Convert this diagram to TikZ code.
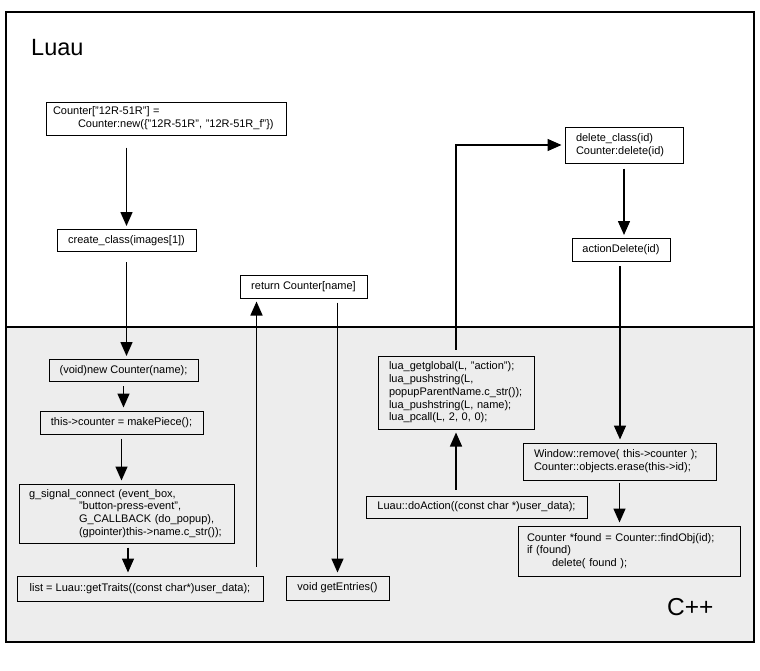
\documentclass[tikz,border=0pt]{standalone}
\usepackage{fontspec}
\setmainfont{Liberation Sans}
\usetikzlibrary{arrows.meta}
\definecolor{cxxbg}{HTML}{EDEDED}
\tikzset{
  box/.style={draw=black, line width=1pt, inner xsep=0pt, inner ysep=0pt,
    font=\fontsize{11}{12.8}\selectfont, align=center},
  codebox/.style={box, align=left},
  arr/.style={line width=1.5pt, -{Triangle[length=14pt,width=12pt]},
    shorten >=3pt},
  title/.style={inner sep=0pt, anchor=base west}
}
\begin{document}
\begin{tikzpicture}[x=1pt,y=-1pt]
\useasboundingbox (0,0) rectangle (760,670);
% language regions
\fill[cxxbg] (6,327) rectangle (754,642);
\draw[line width=1.5pt] (6,12) rectangle (754,642);
\draw[line width=1.3pt] (6,327) -- (754,327);
\node[title, font=\fontsize{23.5}{23.5}\selectfont] (luau) at (31,55) {Luau};
\node[title, font=\fontsize{24.5}{24.5}\selectfont] (cxx) at (667,615) {C++};

% Luau side
\node[codebox, minimum width=240pt, minimum height=33pt, text width=226pt] (cnt) at (166,118.5)
  {Counter["12R-51R"] =\\\hspace*{25pt}Counter:new(\{"12R-51R", "12R-51R\_f"\})};
\node[box, minimum width=139pt, minimum height=22pt] (create) at (126.5,240.5) {create\_class(images[1])};
\node[box, minimum width=127pt, minimum height=23pt] (ret) at (303.5,286.5) {return Counter[name]};
\node[codebox, minimum width=118pt, minimum height=36pt, text width=96pt] (delc) at (624,145)
  {delete\_class(id)\\Counter:delete(id)};
\node[box, minimum width=98pt, minimum height=23pt] (actd) at (621,250) {actionDelete(id)};

% C++ side
\node[box, minimum width=149pt, minimum height=22pt] (newc) at (123.5,370.5) {(void)new Counter(name);};
\node[box, minimum width=163pt, minimum height=23pt] (mkp) at (121.5,422.5) {this->counter = makePiece();};
\node[codebox, minimum width=215pt, minimum height=59pt, text width=195pt] (gsig) at (126.5,513.5)
  {g\_signal\_connect (event\_box,\\\hspace*{50pt}"button-press-event",\\\hspace*{50pt}G\_CALLBACK (do\_popup),\\\hspace*{50pt}(gpointer)this->name.c\_str());};
\node[box, minimum width=246pt, minimum height=25pt] (list) at (140,588.5) {list = Luau::getTraits((const char*)user\_data);};
\node[box, minimum width=103pt, minimum height=24pt] (gete) at (337.5,588) {void getEntries()};
\node[codebox, minimum width=156pt, minimum height=73pt, text width=134pt] (lua) at (456,392.5)
  {lua\_getglobal(L, "action");\\lua\_pushstring(L,\\popupParentName.c\_str());\\lua\_pushstring(L, name);\\lua\_pcall(L, 2, 0, 0);};
\node[box, minimum width=221pt, minimum height=22pt] (doact) at (476.5,507) {Luau::doAction((const char *)user\_data);};
\node[codebox, minimum width=193pt, minimum height=37pt, text width=171pt] (winr) at (619.5,461.5)
  {Window::remove( this->counter );\\Counter::objects.erase(this->id);};
\node[codebox, minimum width=222pt, minimum height=50pt, text width=204pt] (found) at (629,551)
  {Counter *found = Counter::findObj(id);\\if (found)\\\hspace*{25pt}delete( found );};

\coordinate (retin) at ([xshift=17pt]ret.south west);

% call flow
\draw[arr, shorten <=12pt] (create.north |- cnt.south) -- (create.north);
\draw[arr, shorten <=10pt] (create.south) -- (create.south |- newc.north);
\draw[arr, shorten <=4pt] (newc.south) -- (newc.south |- mkp.north);
\draw[arr, shorten <=4pt] (mkp.south) -- (mkp.south |- gsig.north);
\draw[arr, shorten <=4pt] ([xshift=1.5pt]gsig.south) -- ([xshift=1.5pt]gsig.south |- list.north);
\draw[arr, shorten <=9pt] (retin |- list.north) -- (retin);
\draw[arr, shorten <=4pt] (gete.north |- ret.south) -- (gete.north);
\draw[arr, shorten <=6pt] (lua.south |- doact.north) -- (lua.south);
\draw[arr, shorten <=6pt] (lua.north) -- (lua.north |- delc.west) -- (delc.west);
\draw[arr, shorten <=5pt] (delc.south) -- (delc.south |- actd.north);
\draw[arr, shorten <=4pt] ([xshift=-1pt]actd.south) -- ([xshift=-1pt]actd.south |- winr.north);
\draw[arr, shorten <=2pt] (winr.south) -- (winr.south |- found.north);
\end{tikzpicture}
\end{document}
